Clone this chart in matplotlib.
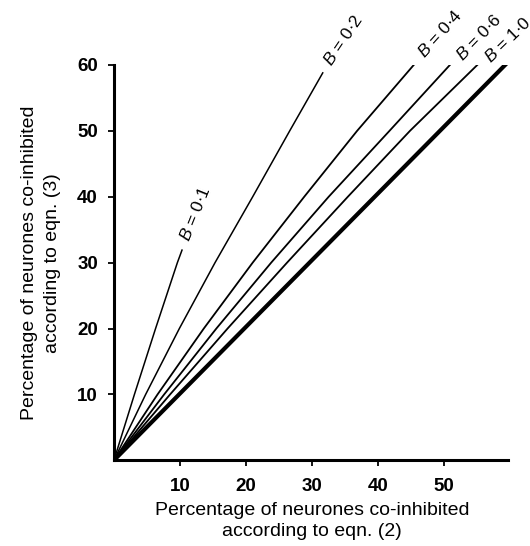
import matplotlib
matplotlib.use("Agg")
import matplotlib.pyplot as plt

plt.rcParams['font.family'] = ['Liberation Sans', 'DejaVu Sans']
plt.rcParams['mathtext.fontset'] = 'custom'
plt.rcParams['mathtext.it'] = 'Liberation Sans:italic'
plt.rcParams['mathtext.rm'] = 'Liberation Sans'

# curves: x = eqn (2), y = eqn (3)
b01_x = [0, 3.1, 6.3, 9.6, 10.3]
b01_y = [0, 10, 20, 30, 31.9]
b02_x = [0, 4.8, 9.9, 15.3, 21.0, 26.6, 31.6]
b02_y = [0, 10, 20, 30, 40, 50, 58.8]
b04_x = [0, 6.6, 13.6, 21.0, 28.8, 36.8, 45.8]
b04_y = [0, 10, 20, 30, 40, 50, 60.5]
b06_x = [0, 7.6, 15.5, 23.8, 32.5, 41.7, 51.3]
b06_y = [0, 10, 20, 30, 40, 50, 60.5]
b10_x = [0, 8.5, 17.2, 26.2, 35.4, 44.8, 55.5]
b10_y = [0, 10, 20, 30, 40, 50, 60.5]
# identity line (thick)
eq_x = [0, 59.2]
eq_y = [0, 60]

labels = ["0·1", "0·2", "0·4", "0·6", "1·0"]
label_x = [12.3, 34.7, 49.3, 55.2, 59.6]
label_y = [37.4, 63.8, 64.7, 64.2, 63.8]
label_rot = [68, 56, 48, 46, 44]

xticks = [10, 20, 30, 40, 50]
yticks = [10, 20, 30, 40, 50, 60]

fig = plt.figure(figsize=(5.30, 5.46), dpi=100)
ax = fig.add_axes([0.215, 0.157, 0.748, 0.724])

ax.plot(b01_x, b01_y, color='black', lw=1.1)
ax.plot(b02_x, b02_y, color='black', lw=1.1)
ax.plot(b04_x, b04_y, color='black', lw=1.3)
ax.plot(b06_x, b06_y, color='black', lw=1.3)
ax.plot(b10_x, b10_y, color='black', lw=1.3)
ax.plot(eq_x, eq_y, color='black', lw=3.0)

for t, x, y, r in zip(labels, label_x, label_y, label_rot):
    ax.text(x, y, r"$B$ = " + t, rotation=r, rotation_mode='anchor',
            ha='center', va='center', fontsize=12.5, clip_on=False)

ax.set_xlim(0, 60)
ax.set_ylim(0, 60)
ax.spines['top'].set_visible(False)
ax.spines['right'].set_visible(False)
ax.spines['left'].set_linewidth(2.2)
ax.spines['bottom'].set_linewidth(2.2)
ax.spines['bottom'].set_bounds(0, 59.6)

ax.set_xticks(xticks)
ax.set_yticks(yticks)
ax.tick_params(axis='both', width=1.3, length=4.5, labelsize=13.5)
ax.tick_params(axis='x', pad=8)
ax.tick_params(axis='y', pad=7)
for lab in ax.get_xticklabels() + ax.get_yticklabels():
    lab.set_fontweight('bold')

ax.set_xlabel("Percentage of neurones co-inhibited\naccording to eqn. (2)",
              fontsize=14, linespacing=1.35, labelpad=5)
ax.set_ylabel("Percentage of neurones co-inhibited\naccording to eqn. (3)",
              fontsize=14, linespacing=1.4, labelpad=12)

fig.savefig("out.png", dpi=100)
